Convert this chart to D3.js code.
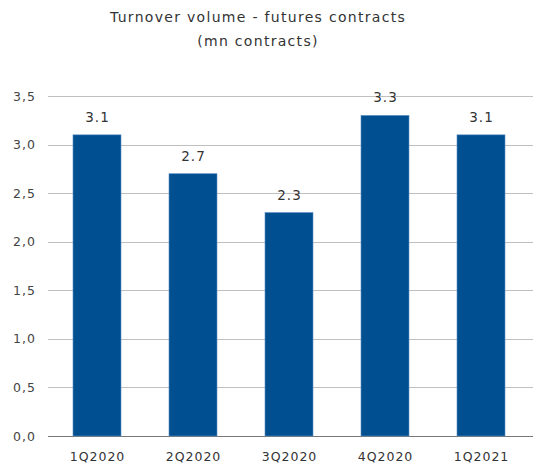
<!DOCTYPE html>
<html><head><meta charset="utf-8">
<script src="https://cdn.jsdelivr.net/npm/d3@7"></script>
<style>body{margin:0;background:#fff}svg{display:block}</style>
</head><body>
<script>
const categories = ["1Q2020","2Q2020","3Q2020","4Q2020","1Q2021"];
const values = [3.1, 2.7, 2.3, 3.3, 3.1];
const yTicks = [0, 0.5, 1.0, 1.5, 2.0, 2.5, 3.0, 3.5];
const titleLines = ["Turnover volume - futures contracts", "(mn contracts)"];

const W = 533, H = 467;
const m = {left: 49, right: 4, top: 96, bottom: 31};
const svg = d3.select("body").append("svg").attr("width", W).attr("height", H);
const font = "Verdana, 'DejaVu Sans', sans-serif";

const x = d3.scaleBand().domain(categories).range([m.left, W - m.right]).paddingInner(0.5).paddingOuter(0.25);
const y = d3.scaleLinear().domain([0, 3.5]).range([H - m.bottom, m.top]);

svg.selectAll("text.title").data(titleLines).join("text")
  .attr("x", 258).attr("y", (d, i) => 22 + i * 24)
  .attr("text-anchor", "middle").attr("font-family", font).attr("font-size", 14)
  .attr("letter-spacing", 1.3).attr("fill", "#333").text(d => d);

// grid
svg.append("g").selectAll("line").data(yTicks).join("line")
  .attr("x1", 48).attr("x2", W).attr("y1", d => Math.round(y(d)) + 0.5).attr("y2", d => Math.round(y(d)) + 0.5)
  .attr("stroke", d => d === 0 ? "#777" : "#c0c0c0").attr("stroke-width", 1);

const yAxis = d3.axisLeft(y).tickValues(yTicks).tickSize(0).tickPadding(0)
  .tickFormat(d => d3.format(".1f")(d).replace(".", ","));
svg.append("g").attr("transform", `translate(${36},0)`).call(yAxis)
  .call(g => g.select(".domain").remove())
  .selectAll("text").attr("font-family", font).attr("font-size", 12.5).attr("letter-spacing", 1)
  .attr("fill", "#444");

svg.append("g").selectAll("rect").data(values).join("rect")
  .attr("x", (d, i) => x(categories[i])).attr("width", x.bandwidth())
  .attr("y", d => y(d)).attr("height", d => y(0) - y(d))
  .attr("fill", "#004f91").attr("stroke", "#5a8fc4").attr("stroke-width", 0.6);

svg.append("g").selectAll("text").data(values).join("text")
  .attr("x", (d, i) => x(categories[i]) + x.bandwidth() / 2 + 0.5).attr("y", d => y(d) - 13)
  .attr("text-anchor", "middle").attr("font-family", font).attr("font-size", 13.5)
  .attr("letter-spacing", 1).attr("fill", "#333")
  .text(d => d3.format(".1f")(d));

const xAxis = d3.axisBottom(x).tickSize(0).tickPadding(0);
svg.append("g").attr("transform", `translate(0.5,${y(0) + 16})`).call(xAxis)
  .call(g => g.select(".domain").remove())
  .selectAll("text").attr("font-family", font).attr("font-size", 12.5).attr("letter-spacing", 1)
  .attr("fill", "#333");
</script>
</body></html>
